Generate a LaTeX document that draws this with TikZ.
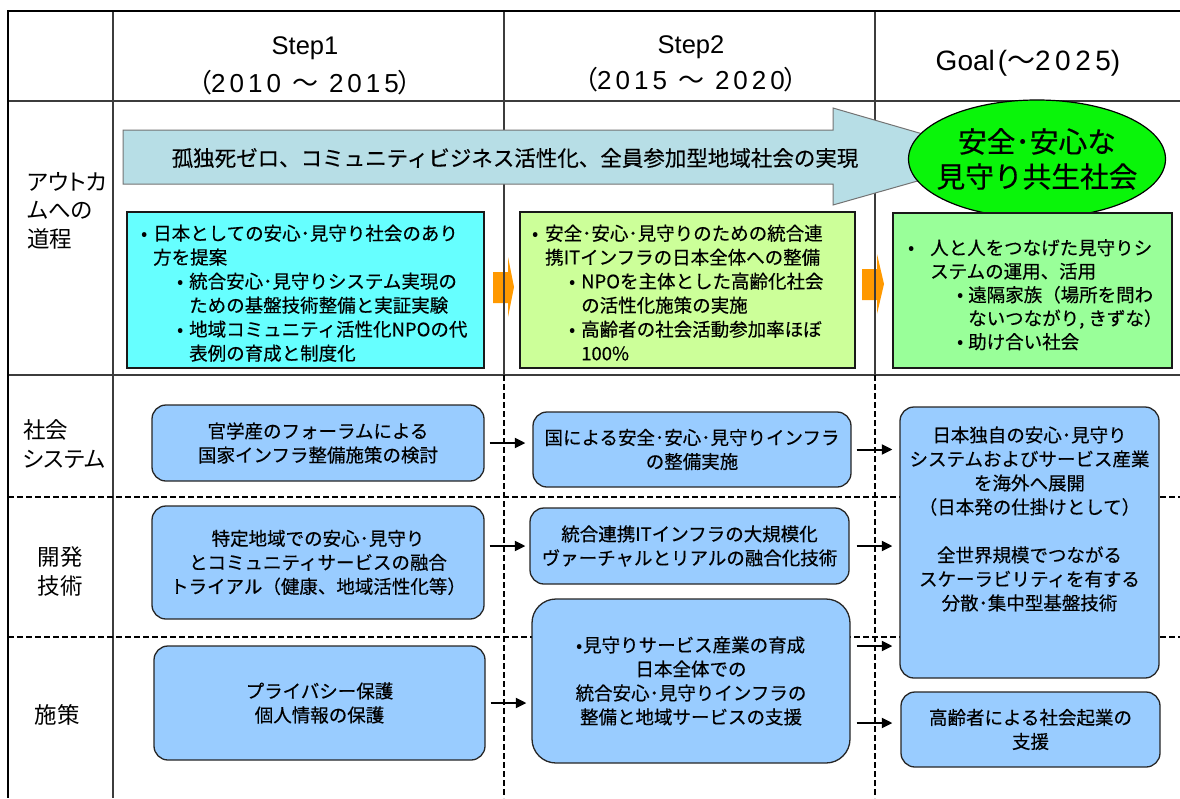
\documentclass[tikz,border=0pt]{standalone}
\usepackage{fontspec}
\setmainfont{Noto Sans CJK JP}[FakeBold=0.35,AutoFakeBold=false]
\newfontfamily\pfont{Noto Sans CJK JP}[RawFeature={+palt}]
\newfontfamily\lat{Liberation Sans}
\usetikzlibrary{arrows.meta,shapes.geometric,calc}
\definecolor{tealarrow}{RGB}{183,222,230}
\definecolor{goalgreen}{RGB}{10,245,10}
\definecolor{cyanbox}{RGB}{102,255,255}
\definecolor{limebox}{RGB}{204,255,153}
\definecolor{mintbox}{RGB}{153,255,153}
\definecolor{lblue}{RGB}{153,204,255}
\definecolor{orangearr}{RGB}{255,153,0}
\definecolor{gridgray}{RGB}{60,60,60}
\tikzset{
  lbox/.style={draw=black!85, line width=1.3pt, fill=lblue, rounded corners=14pt, align=center,
    font=\fontsize{18.5}{24}\selectfont, inner sep=0pt},
  obox/.style={draw=black!90, line width=1.4pt, inner sep=0pt},
  otext/.style={anchor=north west, align=left, inner sep=0pt, font=\fontsize{18.5}{24}\selectfont},
  conn/.style={-{Triangle[length=10.5pt,width=10pt]}, line width=2pt},
  gridline/.style={line width=1.3pt, draw=gridgray},
  dgrid/.style={line width=1.6pt, draw=black, dash pattern=on 6pt off 3pt},
  rowhead/.style={align=left, inner sep=0pt, font=\pfont\fontsize{22.5}{28.5}\selectfont},
  bigtext/.style={inner sep=0pt, font=\fontsize{21.5}{26}\selectfont},
  headtext/.style={inner sep=0pt, font=\pfont\fontsize{26}{30}\selectfont},
}
\newcommand{\bl}[1]{\makebox[#1][l]{\pfont •}}
\newcommand{\tk}{\kern4pt\relax}
\newcommand{\tkg}{\kern4.5pt\relax}
\begin{document}
\begin{tikzpicture}[x=1pt,y=-1pt]
\useasboundingbox (0,0) rectangle (1180,798);
\fill[white] (0,0) rectangle (1180,798);

% orange block arrows (under grid lines)
\fill[orangearr] (493,272) -- (508,272) -- (508,257) -- (514,287) -- (508,317) -- (508,303) -- (493,303) -- cycle;
\fill[orangearr] (862,269) -- (877,269) -- (877,254) -- (884,284) -- (877,314) -- (877,300) -- (862,300) -- cycle;

% grid
\draw[gridline] (113,11) -- (113,798);
\draw[gridline] (504,11) -- (504,375);
\draw[gridline] (875,11) -- (875,375);
\draw[gridline] (8,101) -- (1180,101);
\draw[gridline] (8,375) -- (1180,375);
\draw[dgrid] (504,375) -- (504,798);
\draw[dgrid] (875,375) -- (875,798);
\draw[dgrid] (8,497) -- (1180,497);
\draw[dgrid] (8,637) -- (1180,637);
\draw[line width=2.6pt] (1180,11) -- (8,11) -- (8,798);

% header
\node[headtext, font=\lat\fontsize{25.5}{30}\selectfont] (h1a) at (305,48) {Step1};
\node[headtext] (h1b) at (305,83) {（{\lat 2\tk 0\tk 1\tk 0}\hspace{11pt}～\hspace{11pt}{\lat 2\tk 0\tk 1\tk 5}）};
\node[headtext, font=\lat\fontsize{25.5}{30}\selectfont] (h2a) at (691,47) {Step2};
\node[headtext] (h2b) at (691,80) {（{\lat 2\tk 0\tk 1\tk 5}\hspace{11pt}～\hspace{11pt}{\lat 2\tk 0\tk 2\tk 0}）};
\node[headtext, font=\pfont\fontsize{28}{32}\selectfont] (h3) at (1028,63) {{\lat Goal\kern3pt(}～{\lat 2\tkg 0\tkg 2\tkg 5)}};

% row headers
\node[rowhead, anchor=west] (r1) at (27,210.5) {アウトカ\\ムへの\\道程};
\node[rowhead, anchor=west] (r2) at (23,444) {社会\\システム};
\node[rowhead, align=center] (r3) at (60,571.5) {開発\\技術};
\node[rowhead] (r4) at (57,715) {施策};

% big arrow
\filldraw[fill=tealarrow, draw=black!55, line width=1pt]
  (123,130) -- (833,130) -- (833,108) -- (1002,157) -- (833,205) -- (833,184) -- (123,184) -- cycle;
\node[bigtext] (atext) at (515,158) {孤独死ゼロ、コミュニティビジネス活性化、全員参加型地域社会の実現};

% goal ellipse
\node[ellipse, draw=black, line width=1.2pt, fill=goalgreen, minimum width=257pt, minimum height=118pt,
  inner sep=0pt] (goal) at (1037,159) {};
\node[align=center, inner sep=0pt, font=\fontsize{28.7}{35}\selectfont] (goalt) at (goal.center) {安全･安心な\\見守り共生社会};

% outcome boxes
\node[obox, fill=cyanbox, minimum width=357pt, minimum height=156pt] (o1) at (305.5,290) {};
\node[obox, fill=limebox, minimum width=335pt, minimum height=156pt] (o2) at (687.5,290) {};
\node[obox, fill=mintbox, minimum width=279pt, minimum height=155pt] (o3) at (1032.5,290.5) {};

\node[otext] (o1t) at (141,224.5) {%
\bl{12pt}日本としての安心･見守り社会のあり\\
\hspace*{12pt}方を提案\\
\hspace*{36pt}\bl{12pt}統合安心･見守りシステム実現の\\
\hspace*{48pt}ための基盤技術整備と実証実験\\
\hspace*{36pt}\bl{12pt}地域コミュニティ活性化NPOの代\\
\hspace*{48pt}表例の育成と制度化};

\node[otext] (o2t) at (532,224.5) {%
\bl{13pt}安全･安心･見守りのための統合連\\
\hspace*{13pt}携ITインフラの日本全体への整備\\
\hspace*{37pt}\bl{12pt}NPOを主体とした高齢化社会\\
\hspace*{49pt}の活性化施策の実施\\
\hspace*{37pt}\bl{12pt}高齢者の社会活動参加率ほぼ\\
\hspace*{49pt}100\%};

\node[otext, font=\fontsize{18.5}{23.5}\selectfont] (o3t) at (908,239) {%
\bl{22pt}人と人をつなげた見守りシ\\
\hspace*{22pt}ステムの運用、活用\\
\hspace*{49pt}\bl{11pt}遠隔家族（場所を問わ\\
\hspace*{60pt}ないつながり, きずな）\\
\hspace*{49pt}\bl{11pt}助け合い社会};

% lower boxes
\node[lbox, minimum width=332pt, minimum height=76pt] (A1) at (318,443) {官学産のフォーラムによる\\国家インフラ整備施策の検討};
\node[lbox, minimum width=318pt, minimum height=75pt] (A2) at (692,449.5) {国による安全･安心･見守りインフラ\\の整備実施};
\node[lbox, minimum width=259pt, minimum height=271pt] (G1) at (1029.5,542.5) {};
\node[align=center, inner sep=0pt, font=\fontsize{18.5}{24}\selectfont] (G1t) at (1029.5,519) {日本独自の安心･見守り\\システムおよびサービス産業\\を海外へ展開\\（日本発の仕掛けとして）\\[24pt]全世界規模でつながる\\スケーラビリティを有する\\分散･集中型基盤技術};
\node[lbox, minimum width=332pt, minimum height=113pt] (B1) at (318,562.5) {特定地域での安心･見守り\\とコミュニティサービスの融合\\トライアル（健康、地域活性化等）};
\node[lbox, minimum width=319pt, minimum height=76pt] (B2) at (689.5,546) {統合連携ITインフラの大規模化\\ヴァーチャルとリアルの融合化技術};
\node[lbox, minimum width=331pt, minimum height=114pt] (C1) at (319.5,703) {プライバシー保護\\個人情報の保護};
\node[lbox, rounded corners=24pt, minimum width=318pt, minimum height=164pt] (C2) at (691,681) {{\pfont •}見守りサービス産業の育成\\日本全体での\\統合安心･見守りインフラの\\整備と地域サービスの支援};
\node[lbox, minimum width=259pt, minimum height=75pt] (G2) at (1030.5,729.5) {高齢者による社会起業の\\支援};

% connectors
\draw[conn, shorten <=5pt, shorten >=7pt] (A1.east) -- (A1.east -| A2.west);
\draw[conn, shorten <=5pt, shorten >=7pt] (A2.east) -- (A2.east -| G1.west);
\draw[conn, shorten <=5pt, shorten >=4pt] (B1.east |- B2.west) -- (B2.west);
\draw[conn, shorten <=7pt, shorten >=7pt] (B2.east) -- (B2.east -| G1.west);
\draw[conn, shorten <=5pt, shorten >=5pt] (C1.east) -- (C1.east -| C2.west);
\coordinate (c2a) at ([yshift=35pt]C2.east);
\coordinate (c2b) at ([yshift=-42pt]C2.east);
\draw[conn, shorten <=6pt, shorten >=7pt] (c2a) -- (c2a -| G1.west);
\draw[conn, shorten <=6pt, shorten >=8pt] (c2b) -- (c2b -| G2.west);
\end{tikzpicture}
\end{document}
